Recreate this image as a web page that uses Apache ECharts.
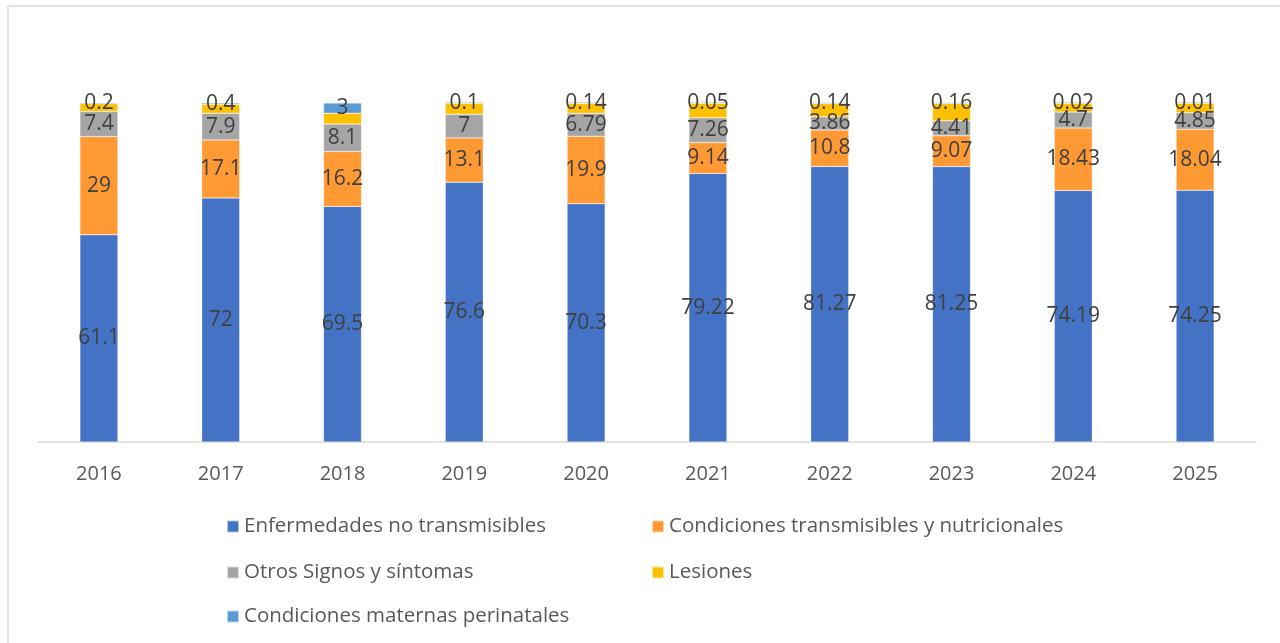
<!DOCTYPE html>
<html>
<head>
<meta charset="utf-8">
<script src="https://cdn.jsdelivr.net/npm/echarts@6/dist/echarts.min.js"></script>
<style>
  html, body { margin: 0; padding: 0; background: #fff; }
  #chart { width: 1280px; height: 643px; }
</style>
</head>
<body>
<div id="chart"></div>
<script>
const years = ['2016', '2017', '2018', '2019', '2020', '2021', '2022', '2023', '2024', '2025']
const enfermedades = [61.1, 72, 69.5, 76.6, 70.3, 79.22, 81.27, 81.25, 74.19, 74.25]
const transmisibles = [29, 17.1, 16.2, 13.1, 19.9, 9.14, 10.8, 9.07, 18.43, 18.04]
const otrosSignos = [7.4, 7.9, 8.1, 7, 6.79, 7.26, 3.86, 4.41, 4.7, 4.85]
// no labels on these segments in the picture, heights estimated from the bars
const lesiones = [2.3, 2.6, 3.2, 3.2, 2.9, 4.3, 3.9, 5.1, 2.6, 2.8]
const maternas = [0.2, 0.4, 3, 0.1, 0.14, 0.05, 0.14, 0.16, 0.02, 0.01]

const names = [
  'Enfermedades no transmisibles',
  'Condiciones transmisibles y nutricionales',
  'Otros Signos y síntomas',
  'Lesiones',
  'Condiciones maternas perinatales'
]
const colors = ['#4472C4', '#FF9933', '#A5A5A5', '#FFC000', '#5B9BD5']
const values = [enfermedades, transmisibles, otrosSignos, lesiones, maternas]

const FONT = 'Open Sans'

const chart = echarts.init(document.getElementById('chart'))

const makeSeries = (i, showLabel) => ({
  name: names[i],
  type: 'bar',
  stack: 'total',
  barWidth: 38,
  clip: false,
  // tiny segments (0.01, 0.02) would otherwise drop their label
  barMinHeight: i === 4 ? 1 : 0,
  itemStyle: {
    color: colors[i],
    borderColor: 'rgba(255,255,255,0.6)',
    borderWidth: 0.5
  },
  label: {
    show: showLabel,
    position: 'inside',
    color: '#404040',
    fontFamily: FONT,
    fontSize: 21,
    formatter: p => p.value
  },
  labelLayout: { hideOverlap: false },
  data: values[i]
})

// legend laid out as in the picture: two columns, three rows
const legendPos = [
  { left: 226, top: 516 },
  { left: 651, top: 516 },
  { left: 226, top: 562 },
  { left: 651, top: 562 },
  { left: 226, top: 606 }
]

chart.setOption({
  backgroundColor: '#fff',
  animation: false,
  color: colors,
  graphic: [{
    type: 'rect',
    shape: { x: 8, y: 6, width: 1300, height: 700 },
    style: { fill: 'none', stroke: '#D9D9D9', lineWidth: 1.5 },
    silent: true
  }],
  legend: legendPos.map((p, i) => ({
    data: [names[i]],
    left: p.left,
    top: p.top,
    icon: 'rect',
    itemWidth: 12,
    itemHeight: 12,
    itemGap: 4,
    padding: 0,
    selectedMode: false,
    textStyle: { color: '#595959', fontFamily: FONT, fontSize: 20.5 }
  })),
  grid: {
    left: 38,
    right: 24,
    top: 103,
    bottom: 201
  },
  xAxis: {
    type: 'category',
    data: years,
    axisLine: { lineStyle: { color: '#D9D9D9', width: 1.5 } },
    axisTick: { show: false },
    axisLabel: {
      color: '#595959',
      fontFamily: FONT,
      fontSize: 20,
      margin: 22
    }
  },
  yAxis: {
    type: 'value',
    min: 0,
    max: 100,
    show: false
  },
  series: [
    makeSeries(0, true),
    makeSeries(1, true),
    makeSeries(2, true),
    makeSeries(3, false),
    makeSeries(4, true)
  ]
})
</script>
</body>
</html>
